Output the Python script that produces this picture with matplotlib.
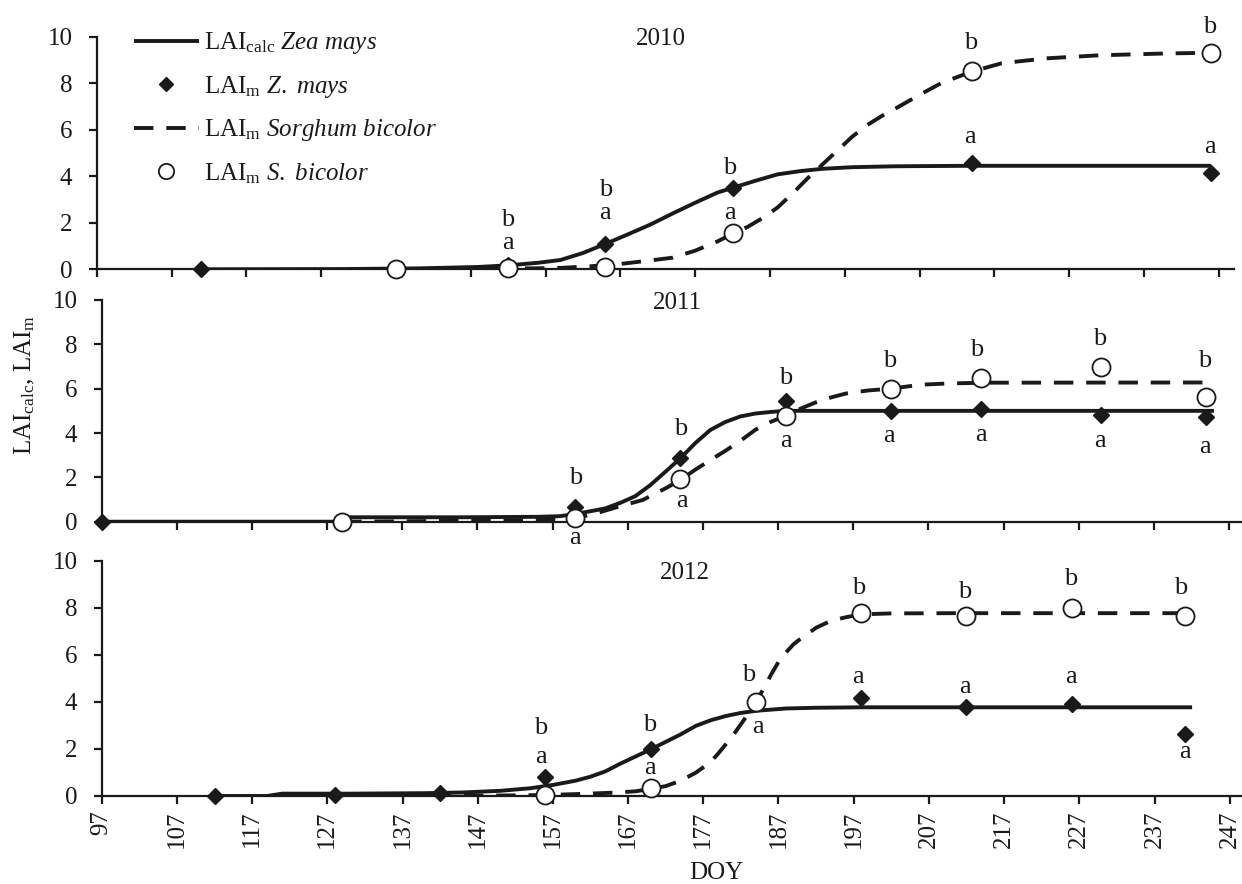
import matplotlib
matplotlib.use("Agg")
import matplotlib.pyplot as plt
from matplotlib.lines import Line2D

plt.rcParams['font.family'] = ['Liberation Serif', 'DejaVu Serif']
plt.rcParams['mathtext.fontset'] = 'custom'
plt.rcParams['mathtext.rm'] = 'Liberation Serif'
plt.rcParams['mathtext.it'] = 'Liberation Serif:italic'

# ---- data ----
years = ['2010', '2011', '2012']

# fitted curves (DOY, LAI)
zea_curve_doy = {
    '2010': [111, 130, 140, 148, 152, 156, 159, 162, 165, 168, 171, 174, 177, 180, 182,
             185, 188, 191, 194, 198, 204, 214, 230, 246],
    '2011': [97, 128, 130, 145, 155, 158, 160, 162, 164, 166, 168, 170, 172, 174, 176,
             178, 180, 182, 184, 186, 188, 192, 200, 214, 245],
    '2012': [112, 119, 121, 130, 140, 145, 150, 154, 157, 160, 162, 164, 166, 168, 170,
             172, 174, 176, 178, 180, 182, 184, 188, 192, 198, 212, 242],
}
zea_curve_lai = {
    '2010': [0.0, 0.01, 0.04, 0.1, 0.17, 0.28, 0.4, 0.7, 1.09, 1.5, 1.92, 2.4, 2.86, 3.3, 3.5,
             3.8, 4.08, 4.22, 4.32, 4.39, 4.43, 4.45, 4.45, 4.45],
    '2011': [0.0, 0.0, 0.2, 0.2, 0.22, 0.25, 0.35, 0.47, 0.6, 0.85, 1.15, 1.65, 2.25, 2.86, 3.55,
             4.14, 4.5, 4.75, 4.88, 4.95, 5.0, 5.0, 5.0, 5.0, 5.0],
    '2012': [0.0, 0.0, 0.1, 0.1, 0.12, 0.15, 0.22, 0.33, 0.47, 0.65, 0.82, 1.05, 1.38, 1.68, 1.98,
             2.3, 2.62, 2.98, 3.22, 3.4, 3.53, 3.62, 3.72, 3.75, 3.77, 3.77, 3.77],
}
sorg_curve_doy = {
    '2010': [137, 150, 155, 159, 163, 167, 171, 174, 177, 180, 182, 184, 186, 188, 190,
             192, 194, 196, 198, 200, 202, 204, 207, 210, 214, 218, 224, 231, 240, 246],
    '2011': [129, 150, 158, 160, 163, 166, 169, 172, 174, 176, 178, 180, 182, 184, 186,
             188, 190, 192, 194, 196, 199, 202, 206, 210, 215, 245],
    '2012': [128, 150, 156, 160, 165, 168, 170, 172, 174, 176, 178, 179, 180, 181, 182,
             183, 184, 185, 186, 187, 188, 189, 190, 192, 194, 196, 198, 202, 210, 241],
}
sorg_curve_lai = {
    '2010': [0.0, 0.02, 0.04, 0.06, 0.13, 0.23, 0.38, 0.5, 0.8, 1.2, 1.52, 1.82, 2.2, 2.65, 3.25,
             3.9, 4.5, 5.1, 5.7, 6.2, 6.6, 6.95, 7.5, 8.02, 8.5, 8.86, 9.07, 9.2, 9.28, 9.31],
    '2011': [0.0, 0.05, 0.1, 0.15, 0.4, 0.7, 0.98, 1.5, 1.88, 2.35, 2.78, 3.2, 3.65, 4.15, 4.5,
             4.77, 5.1, 5.38, 5.6, 5.78, 5.92, 6.0, 6.18, 6.24, 6.27, 6.28],
    '2012': [0.0, 0.02, 0.04, 0.08, 0.14, 0.2, 0.3, 0.42, 0.65, 0.99, 1.45, 1.81, 2.2, 2.6, 3.05,
             3.5, 4.0, 4.55, 5.15, 5.7, 6.1, 6.45, 6.7, 7.15, 7.45, 7.6, 7.72, 7.76, 7.77, 7.77],
}

# measured points
zea_doy = {
    '2010': [111, 152, 165, 182, 214, 246],
    '2011': [97, 160, 174, 188, 202, 214, 230, 244],
    '2012': [112, 128, 142, 156, 170, 198, 212, 226, 241],
}
zea_lai = {
    '2010': [0.0, 0.2, 1.1, 3.48, 4.56, 4.13],
    '2011': [0.0, 0.68, 2.86, 5.45, 5.0, 5.07, 4.81, 4.71],
    '2012': [0.0, 0.04, 0.11, 0.8, 1.98, 4.15, 3.8, 3.91, 2.63],
}
sorg_doy = {
    '2010': [137, 152, 165, 182, 214, 246],
    '2011': [129, 160, 174, 188, 202, 214, 230, 244],
    '2012': [156, 170, 184, 198, 212, 226, 241],
}
sorg_lai = {
    '2010': [0.0, 0.04, 0.1, 1.55, 8.54, 9.31],
    '2011': [0.0, 0.15, 1.91, 4.77, 5.99, 6.47, 6.99, 5.64],
    '2012': [0.04, 0.33, 4.01, 7.76, 7.65, 7.98, 7.65],
}

# significance letters (DOY, LAI position, letter)
letters = {
    '2010': [(152, 2.12, 'b'), (152, 1.12, 'a'), (165, 3.41, 'b'), (165, 2.41, 'a'),
             (181.6, 4.34, 'b'), (181.6, 2.41, 'a'), (213.8, 9.72, 'b'), (213.8, 5.70, 'a'),
             (245.8, 10.43, 'b'), (245.8, 5.27, 'a')],
    '2011': [(160, 1.96, 'b'), (160, -0.75, 'a'), (174, 4.17, 'b'), (174.2, 0.95, 'a'),
             (188, 6.47, 'b'), (188, 3.65, 'a'), (201.8, 7.26, 'b'), (201.8, 3.87, 'a'),
             (213.4, 7.74, 'b'), (214, 3.91, 'a'), (229.8, 8.23, 'b'), (229.8, 3.65, 'a'),
             (243.8, 7.26, 'b'), (243.8, 3.38, 'a')],
    '2012': [(155.4, 2.88, 'b'), (155.4, 1.64, 'a'), (169.9, 3.02, 'b'), (169.9, 1.18, 'a'),
             (183, 5.14, 'b'), (184.2, 2.92, 'a'), (197.6, 8.83, 'b'), (197.6, 5.04, 'a'),
             (211.8, 8.68, 'b'), (211.8, 4.65, 'a'), (225.9, 9.21, 'b'), (225.9, 5.04, 'a'),
             (240.5, 8.83, 'b'), (241, 1.88, 'a')],
}
title_pos = {'2010': (172.4, 9.89), '2011': (173.6, 9.85), '2012': (174.5, 9.46)}

xticks = list(range(97, 248, 10))
yticks = [0, 2, 4, 6, 8, 10]

# ---- figure ----
W, H = 1242, 884
fig = plt.figure(figsize=(W / 100, H / 100), dpi=100)

# panel rectangles in pixels: left, y of 0, y of 10, px per day
panels = {
    '2010': (96.7, 269.3, 36.7, 7.48),
    '2011': (101.7, 521.7, 300.0, 7.515),
    '2012': (101.7, 796.0, 560.7, 7.52),
}
xmax = 249
ink = '#1a1a1a'

line_kw = dict(color=ink, lw=2.8, solid_capstyle='butt')
dash_kw = dict(color=ink, lw=2.8, ls=(0, (5, 3.3)), dash_capstyle='butt')
dia_kw = dict(ls='none', marker='D', ms=8.5, color=ink, clip_on=False, zorder=4)
circ_kw = dict(ls='none', marker='o', ms=13, mfc='white', mec=ink, mew=1.3,
               clip_on=False, zorder=5)

for yr in years:
    left, y0, y10, ppd = panels[yr]
    width = (xmax - 97) * ppd
    ax = fig.add_axes([left / W, 1 - y0 / H, width / W, (y0 - y10) / H])
    ax.plot(zea_curve_doy[yr], zea_curve_lai[yr], ls='-', zorder=3, **line_kw)
    ax.plot(sorg_curve_doy[yr], sorg_curve_lai[yr], zorder=3, **dash_kw)
    ax.plot(zea_doy[yr], zea_lai[yr], **dia_kw)
    ax.plot(sorg_doy[yr], sorg_lai[yr], **circ_kw)

    for x, y, s in letters[yr]:
        ax.text(x, y, s, ha='center', va='center', fontsize=19, color=ink)
    tx, ty = title_pos[yr]
    ax.text(tx, ty, yr, ha='center', va='center', fontsize=18, color=ink)

    ax.set_xlim(97, xmax)
    ax.set_ylim(0, 10)
    ax.set_xticks(xticks)
    ax.set_yticks(yticks)
    for s in ['top', 'right']:
        ax.spines[s].set_visible(False)
    for s in ['left', 'bottom']:
        ax.spines[s].set_linewidth(1.6)
        ax.spines[s].set_color(ink)
    ax.tick_params(axis='both', direction='out', length=5.5, width=1.6, color=ink,
                   labelsize=18, labelcolor=ink)
    ax.tick_params(axis='y', pad=12)
    if yr == '2012':
        ax.tick_params(axis='x', pad=5)
        ax.set_xticklabels([str(t) for t in xticks], rotation=90)
    else:
        ax.set_xticklabels([])
    ax.patch.set_visible(False)

    if yr == '2010':
        handles = [
            Line2D([], [], ls='-', **line_kw),
            Line2D([], [], ls='none', marker='D', ms=7.5, color=ink),
            Line2D([], [], **dash_kw),
            Line2D([], [], ls='none', marker='o', ms=11, mfc='white', mec=ink, mew=1.3),
        ]
        labels = [r'LAI$_{\mathrm{calc}}$ $\mathit{Zea\ mays}$',
                  r'LAI$_{\mathrm{m}}$ $\mathit{Z.\ mays}$',
                  r'LAI$_{\mathrm{m}}$ $\mathit{Sorghum\ bicolor}$',
                  r'LAI$_{\mathrm{m}}$ $\mathit{S.\ bicolor}$']
        leg = ax.legend(handles, labels, loc='upper left', bbox_to_anchor=(0.024, 1.07),
                        frameon=False, fontsize=18, handlelength=2.6, handletextpad=0.2,
                        labelspacing=0.7, borderaxespad=0)
        for t in leg.get_texts():
            t.set_color(ink)

fig.text(25 / W, 1 - 385 / H, r'LAI$_{\mathrm{calc}}$, LAI$_{\mathrm{m}}$', rotation=90,
         ha='center', va='center', fontsize=18, color=ink)
fig.text(716.7 / W, 1 - 873 / H, 'DOY', ha='center', va='center', fontsize=18, color=ink)

fig.savefig('out.png', dpi=100)
